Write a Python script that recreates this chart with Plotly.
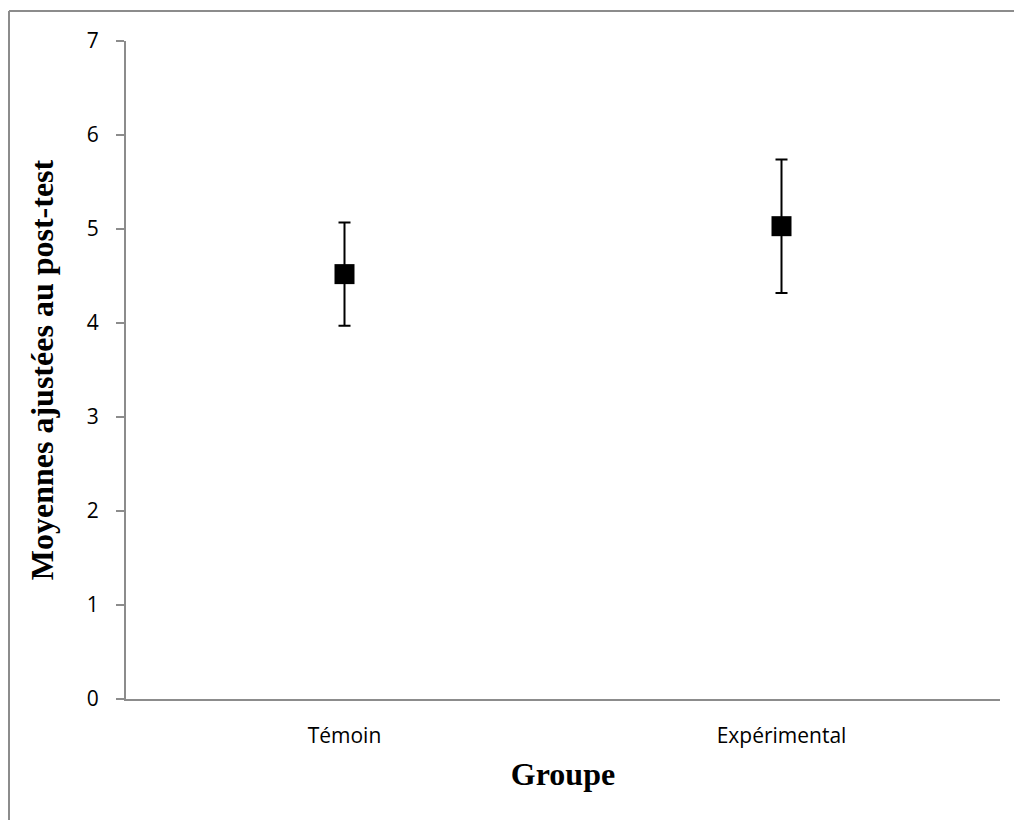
import plotly.graph_objects as go

groups = ["Témoin", "Expérimental"]
means = [4.52, 5.03]
errors = [0.55, 0.71]
y_ticks = [0, 1, 2, 3, 4, 5, 6, 7]

W, H = 1014, 820
L, T = 126, 41
PW, PH = 874, 658
R = W - L - PW
B = H - T - PH

fig = go.Figure()
fig.add_trace(go.Scatter(
    x=groups, y=means, mode="markers",
    marker=dict(symbol="square", size=20, color="black"),
    error_y=dict(type="data", array=errors, visible=True,
                 color="black", thickness=2, width=6),
    showlegend=False,
))

fig.update_layout(
    width=W, height=H,
    margin=dict(l=L, r=R, t=T, b=B, autoexpand=False),
    paper_bgcolor="white", plot_bgcolor="white",
    font=dict(family="Open Sans", color="black"),
    xaxis=dict(
        type="category", range=[-0.5, 1.5],
        showline=True, linecolor="#8c8c8c", linewidth=2,
        ticks="", showgrid=False, zeroline=False,
        tickfont=dict(family="Open Sans", size=21, color="black"),
        ticklabelstandoff=17,
        title=dict(text="<b>Groupe</b>", standoff=14,
                   font=dict(family="Liberation Serif", size=32, color="black")),
    ),
    yaxis=dict(
        range=[0, 7], tickvals=y_ticks,
        showline=True, linecolor="#8c8c8c", linewidth=2,
        ticks="outside", ticklen=8, tickcolor="#8c8c8c", tickwidth=2,
        showgrid=False, zeroline=False,
        tickfont=dict(family="Open Sans", size=21, color="black"),
        ticklabelstandoff=13,
        title=dict(text="<b>Moyennes ajustées au post-test</b>", standoff=24,
                   font=dict(family="Liberation Serif", size=32, color="black")),
    ),
)

# outer frame: only the left and top edges are visible in the picture
bx = (9 - L) / PW
by = 1 + (T - 11) / PH
frame = dict(color="#8c8c8c", width=2)
fig.add_shape(type="line", xref="paper", yref="paper",
              x0=bx, x1=bx, y0=-0.3, y1=by, line=frame, layer="below")
fig.add_shape(type="line", xref="paper", yref="paper",
              x0=bx, x1=1.1, y0=by, y1=by, line=frame, layer="below")

fig.write_html("out.html",
               config={"displayModeBar": False},
               post_script="document.body.style.margin='0';document.body.style.overflow='hidden';")
